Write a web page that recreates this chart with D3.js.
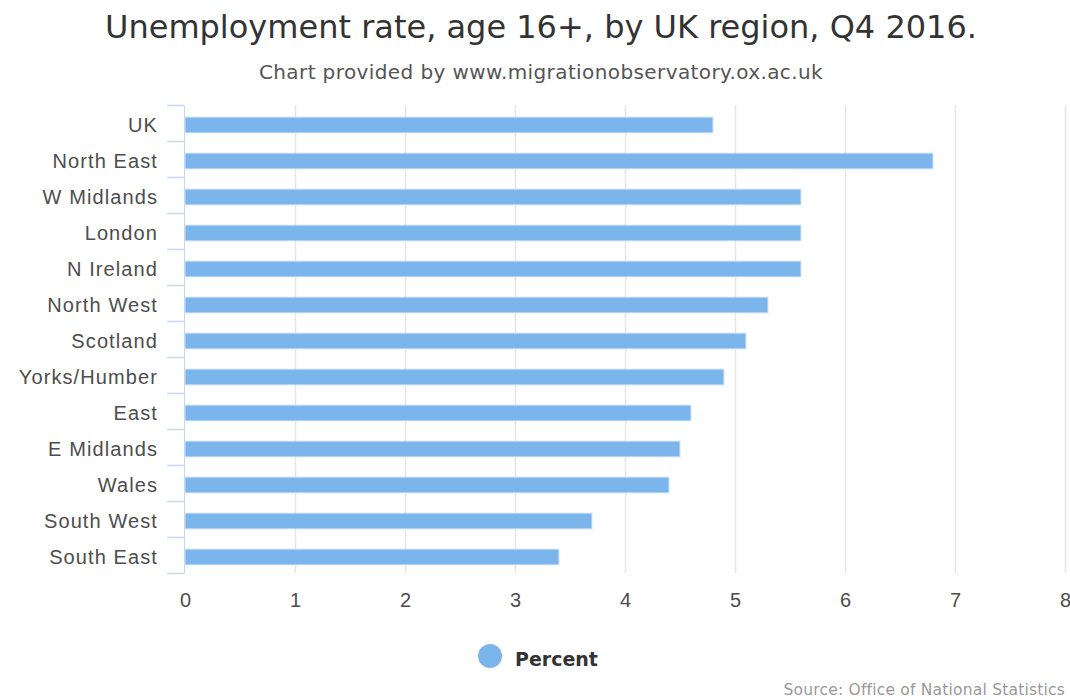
<html lang="en">
<head>
    <meta charset="UTF-8">
    <title>Unemployment rate by UK region</title>
    <script src="https://d3js.org/d3.v7.min.js"></script>
    <style>
        body { margin: 0; background: #fff; }
        svg { font-family: "DejaVu Sans", Verdana, sans-serif; }
    </style>
</head>
<body>
    <script>
        const regions = ['UK', 'North East', 'W Midlands', 'London', 'N Ireland', 'North West', 'Scotland',
            'Yorks/Humber', 'East', 'E Midlands', 'Wales', 'South West', 'South East'];
        const percent = [4.8, 6.8, 5.6, 5.6, 5.6, 5.3, 5.1, 4.9, 4.6, 4.5, 4.4, 3.7, 3.4];
        const xTicks = [0, 1, 2, 3, 4, 5, 6, 7, 8];

        const w = 1070;
        const h = 700;
        const plotLeft = 185, plotRight = 1065, plotTop = 105, plotBottom = 573;

        const svg = d3.select('body')
            .append('svg')
            .attr('width', w)
            .attr('height', h);

        const xScale = d3.scaleLinear()
            .domain([0, 8])
            .range([plotLeft, plotRight]);

        const yScale = d3.scaleBand()
            .domain(regions)
            .range([plotTop, plotBottom])
            .paddingInner(0.56)
            .paddingOuter(0.28);

        // grid lines
        svg.append('g')
            .selectAll('line')
            .data(xTicks.slice(1))
            .enter()
            .append('line')
            .attr('x1', d => xScale(d) + 0.5)
            .attr('x2', d => xScale(d) + 0.5)
            .attr('y1', plotTop)
            .attr('y2', plotBottom)
            .attr('stroke', '#e6e6e6')
            .attr('stroke-width', 1.5);

        // bars
        svg.append('g')
            .selectAll('rect')
            .data(regions)
            .enter()
            .append('rect')
            .attr('x', xScale(0))
            .attr('y', d => yScale(d) + 2)
            .attr('width', (d, i) => xScale(percent[i]) - xScale(0))
            .attr('height', yScale.bandwidth())
            .attr('fill', '#7cb5ec')
            .attr('stroke', '#d4e6f8')
            .attr('stroke-width', 1);

        // category axis
        const yAxis = d3.axisLeft(yScale).tickSize(0).tickPadding(26);
        const yg = svg.append('g')
            .attr('transform', 'translate(' + (plotLeft - 1) + ',0)')
            .call(yAxis);
        yg.select('.domain').attr('stroke', '#ccd6eb');
        yg.selectAll('text')
            .attr('dy', '0.44em')
            .style('font-size', '20px')
            .style('letter-spacing', '1.1px')
            .attr('fill', '#4d4d4d');

        // category boundary ticks
        const bounds = regions.map(r => yScale(r) - yScale.step() * yScale.paddingInner() / 2);
        bounds.push(plotBottom);
        yg.selectAll('.bound')
            .data(bounds)
            .enter()
            .append('line')
            .attr('class', 'bound')
            .attr('x1', -17)
            .attr('x2', 0)
            .attr('y1', d => d + 0.5)
            .attr('y2', d => d + 0.5)
            .attr('stroke', '#ccd6eb')
            .attr('stroke-width', 1.5);

        // value axis
        const xAxis = d3.axisBottom(xScale).tickValues(xTicks).tickSize(0).tickPadding(20);
        const xg = svg.append('g')
            .attr('transform', 'translate(0,' + plotBottom + ')')
            .call(xAxis);
        xg.select('.domain').remove();
        xg.selectAll('text')
            .style('font-size', '20px')
            .attr('fill', '#4d4d4d');

        svg.append('text')
            .attr('x', 541)
            .attr('y', 38)
            .attr('text-anchor', 'middle')
            .style('font-size', '32px')
            .attr('fill', '#333')
            .text('Unemployment rate, age 16+, by UK region, Q4 2016.');

        svg.append('text')
            .attr('x', 541)
            .attr('y', 79)
            .attr('text-anchor', 'middle')
            .style('font-size', '20px')
            .style('letter-spacing', '0.4px')
            .attr('fill', '#555')
            .text('Chart provided by www.migrationobservatory.ox.ac.uk');

        // legend
        const legend = svg.append('g');
        legend.append('circle')
            .attr('cx', 490)
            .attr('cy', 656)
            .attr('r', 12)
            .attr('fill', '#7cb5ec');
        legend.append('text')
            .attr('x', 515)
            .attr('y', 666)
            .style('font-size', '19px')
            .style('font-weight', 'bold')
            .attr('fill', '#333')
            .text('Percent');

        svg.append('text')
            .attr('x', 1065)
            .attr('y', 695)
            .attr('text-anchor', 'end')
            .style('font-size', '15.5px')
            .style('letter-spacing', '0.2px')
            .attr('fill', '#999')
            .text('Source: Office of National Statistics');
    </script>
</body>
</html>
